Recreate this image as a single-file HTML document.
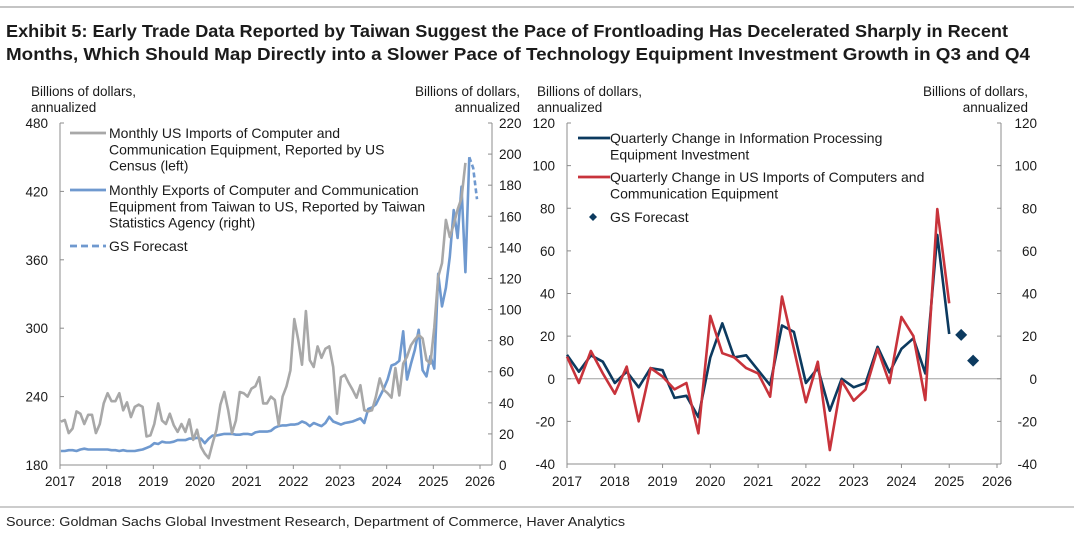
<!DOCTYPE html>
<html><head><meta charset="utf-8">
<style>
body{margin:0;background:#fff;width:1074px;height:535px;overflow:hidden;font-family:"Liberation Sans",Arial,sans-serif;}
svg text{font-family:"Liberation Sans",Arial,sans-serif;}
</style></head>
<body>
<svg id="c" width="1074" height="535" viewBox="0 0 1074 535">
<line x1="0" y1="7" x2="1074" y2="7" stroke="#888" stroke-width="1"/>
<text x="6" y="37" font-size="17.5" font-weight="bold" fill="#1b1b1b" textLength="1002" lengthAdjust="spacingAndGlyphs">Exhibit 5: Early Trade Data Reported by Taiwan Suggest the Pace of Frontloading Has Decelerated Sharply in Recent</text>
<text x="6" y="60" font-size="17.5" font-weight="bold" fill="#1b1b1b" textLength="1024" lengthAdjust="spacingAndGlyphs">Months, Which Should Map Directly into a Slower Pace of Technology Equipment Investment Growth in Q3 and Q4</text>
<line x1="0" y1="507" x2="1074" y2="507" stroke="#999" stroke-width="1"/>
<text x="6" y="526" font-size="13" fill="#222" textLength="619" lengthAdjust="spacingAndGlyphs">Source: Goldman Sachs Global Investment Research, Department of Commerce, Haver Analytics</text>
<g id="L"></g>
<g id="R"></g>
</svg>
<script>
// ---------- data ----------
const years = [2017,2018,2019,2020,2021,2022,2023,2024,2025,2026];
const leftTicks = [180,240,300,360,420,480];
const leftRightTicks = [0,20,40,60,80,100,120,140,160,180,200,220];
const rightTicks = [-40,-20,0,20,40,60,80,100,120];
// monthly US imports, Jan 2017 onward (left axis)
const usImports = [218,219.5,208,212,227,225,216,224,224,208,216,234,243,236,236,243,228,235,222,231,233,231,205,206,216,234,219,216,225,215,209,216,209,220,202,211,196,190,186,199,211,233,244,228,208,219,244,243,240,247,249,257,234,234,240,237,215,240,249,263,308,290,268,315,272,266,284,274,282,284,266,225,257,259,252,246,239,250,228,227,228,240,256,246,243,239,265,241,269,275,285,290,294,291,272,269,301,345,357,395,380,391,404,414,445];
// monthly Taiwan exports, Jan 2017 onward (right axis)
const twExports = [9,9,9.5,9.5,9,10,10.5,10,10,10,10,10,10,9.5,9.5,9,9.5,9,9,9,9.5,10,11,12,14,13.5,15,14.5,14.5,15,16,16,16,17,17,17.5,17,14,17,19,19,19.5,20,20,20,19.5,19.5,20,20,19.5,21,21.5,21.5,21.5,22,24,25,25.5,25.5,26,26,26.5,28,27,25,27,26,25,27,31,28,27,26,27,27.5,28,29,30,27,36,37,39,44,49,55,64,65,67,86,55,65,74,87,61,57,70,62,123,102,114,134,164,146,179,124,198];
const twForecast = [198,191,171]; // Oct-Dec 2025
// quarterly, Q1 2017 onward
const infoProc = [11.2,3.3,11,8,-2,3.3,-4,5,4,-9,-8,-18,10,26,10,11,4,-3,25,22,-2,5,-15,0,-4,-2,15,3,14,19,2.5,67.5,21];
const importsQ = [10.4,-2,13,2.5,-7,5.7,-20,5,1,-5,-2,-25.6,29.5,12,10,5,2.5,-8.4,38.6,14,-11,8,-33.5,-1,-10.3,-5,14,-2,29,20,-10,79.6,35.4];
const gsForecastQ = [20.6,8.5]; // Q2, Q3 2025

// ---------- helpers ----------
const NS="http://www.w3.org/2000/svg";
function mk(parent,tag,attrs,text){const e=document.createElementNS(NS,tag);for(const k in attrs)e.setAttribute(k,attrs[k]);if(text!==undefined)e.textContent=text;parent.appendChild(e);return e;}
const AX="#8c8c8c", TXT="#1a1a1a", FS=13.5, LFS=14;

// ---------- left panel ----------
const L=document.getElementById('L');
const lx=y=>60+(y-2017)*(480-60)/9;
const ly=v=>465-(v-180)*(465-123)/300;
const ry=v=>465-v*(465-123)/220;
let e;
e=mk(L,'line',{x1:60,y1:123,x2:60,y2:465,stroke:AX});


e=mk(L,'line',{x1:492,y1:123,x2:492,y2:465,stroke:AX});


e=mk(L,'line',{x1:60,y1:465,x2:492,y2:465,stroke:AX});


leftTicks.forEach(v=>{mk(L,'line',{x1:60,y1:ly(v),x2:64,y2:ly(v),stroke:AX});
 e=mk(L,'text',{x:48,y:ly(v)+5,'font-size':FS,'text-anchor':'end',fill:TXT},v);
 
 });
leftRightTicks.forEach(v=>{mk(L,'line',{x1:488,y1:ry(v),x2:492,y2:ry(v),stroke:AX});
 e=mk(L,'text',{x:499,y:ry(v)+5,'font-size':FS,fill:TXT},v);
 
 });
years.forEach(y=>{mk(L,'line',{x1:lx(y),y1:465,x2:lx(y),y2:469,stroke:AX});
 e=mk(L,'text',{x:lx(y),y:486,'font-size':FS,'text-anchor':'middle',fill:TXT},y);
 
 });
e=mk(L,'text',{x:31,y:96,'font-size':FS,fill:TXT},'Billions of dollars,');


mk(L,'text',{x:31,y:112,'font-size':FS,fill:TXT},'annualized');
e=mk(L,'text',{x:520,y:96,'font-size':FS,fill:TXT,'text-anchor':'end'},'Billions of dollars,');


mk(L,'text',{x:520,y:112,'font-size':FS,fill:TXT,'text-anchor':'end'},'annualized');
function path(arr,fx,fy){return arr.map((v,i)=>(i?'L':'M')+fx(i).toFixed(1)+','+fy(v).toFixed(1)).join('');}
const mx=i=>lx(2017+i/12+0.02);
e=mk(L,'path',{d:path(twExports,mx,ry),fill:'none',stroke:'#6f99cf','stroke-width':2.6,'stroke-linejoin':'round'});


e=mk(L,'path',{d:path(usImports,mx,ly),fill:'none',stroke:'#a8a8a8','stroke-width':2.6,'stroke-linejoin':'round'});


const off=twExports.length-1;
e=mk(L,'path',{d:path(twForecast,i=>mx(off+i),ry),fill:'none',stroke:'#6f99cf','stroke-width':2.6,'stroke-dasharray':'5,3'});


// left legend
const lg=[['#a8a8a8',false,['Monthly US Imports of Computer and','Communication Equipment, Reported by US','Census (left)'],138],
['#6f99cf',false,['Monthly Exports of Computer and Communication','Equipment from Taiwan to US, Reported by Taiwan','Statistics Agency (right)'],195],
['#6f99cf',true,['GS Forecast'],251]];
lg.forEach(g=>{const gg=mk(L,'g',{});
 
 
 mk(gg,'line',{x1:70,y1:g[3]-5,x2:106,y2:g[3]-5,stroke:g[0],'stroke-width':2.8,'stroke-dasharray':g[1]?'7,4':'none'});
 g[2].forEach((t,k)=>mk(gg,'text',{x:109,y:g[3]+k*16.3,'font-size':LFS,fill:TXT},t));});

// ---------- right panel ----------
const R=document.getElementById('R');
const qx=y=>567+(y-2017)*(997-567)/9;
const qy=v=>464-(v+40)*(464-123)/160;
e=mk(R,'line',{x1:567,y1:123,x2:567,y2:464,stroke:AX});


e=mk(R,'line',{x1:1001,y1:123,x2:1001,y2:464,stroke:AX});


e=mk(R,'line',{x1:567,y1:464,x2:1001,y2:464,stroke:AX});


e=mk(R,'line',{x1:567,y1:qy(0),x2:1001,y2:qy(0),stroke:'#a0a0a0'});


rightTicks.forEach(v=>{mk(R,'line',{x1:567,y1:qy(v),x2:571,y2:qy(v),stroke:AX});mk(R,'line',{x1:997,y1:qy(v),x2:1001,y2:qy(v),stroke:AX});
 e=mk(R,'text',{x:555,y:qy(v)+5,'font-size':FS,'text-anchor':'end',fill:TXT},v);
 
 
 e=mk(R,'text',{x:1037,y:qy(v)+5,'font-size':FS,'text-anchor':'end',fill:TXT},v);
 
 });
years.forEach(y=>{mk(R,'line',{x1:qx(y),y1:464,x2:qx(y),y2:468,stroke:AX});
 e=mk(R,'text',{x:qx(y),y:486,'font-size':FS,'text-anchor':'middle',fill:TXT},y);
 
 });
e=mk(R,'text',{x:537,y:96,'font-size':FS,fill:TXT},'Billions of dollars,');


mk(R,'text',{x:537,y:112,'font-size':FS,fill:TXT},'annualized');
e=mk(R,'text',{x:1028,y:96,'font-size':FS,fill:TXT,'text-anchor':'end'},'Billions of dollars,');


mk(R,'text',{x:1028,y:112,'font-size':FS,fill:TXT,'text-anchor':'end'},'annualized');
const qix=i=>qx(2017+i/4);
e=mk(R,'path',{d:path(infoProc,qix,qy),fill:'none',stroke:'#0c3a5f','stroke-width':2.6,'stroke-linejoin':'round'});


e=mk(R,'path',{d:path(importsQ,qix,qy),fill:'none',stroke:'#c8333b','stroke-width':2.6,'stroke-linejoin':'round'});


gsForecastQ.forEach((v,i)=>{const x=qix(infoProc.length+i),y=qy(v);
 e=mk(R,'path',{d:`M${x},${y-6}L${x+6},${y}L${x},${y+6}L${x-6},${y}Z`,fill:'#0c3a5f'});
 
 });
const rg=[['#0c3a5f',['Quarterly Change in Information Processing','Equipment Investment'],143],
['#c8333b',['Quarterly Change in US Imports of Computers and','Communication Equipment'],182]];
rg.forEach(g=>{const gg=mk(R,'g',{});
 
 
 mk(gg,'line',{x1:578,y1:g[2]-5,x2:610,y2:g[2]-5,stroke:g[0],'stroke-width':2.8});
 g[1].forEach((t,k)=>mk(gg,'text',{x:610,y:g[2]+k*16.3,'font-size':LFS,fill:TXT},t));});
const fg=mk(R,'g',{});


mk(fg,'path',{d:'M593,213L597,217L593,221L589,217Z',fill:'#0c3a5f'});
mk(fg,'text',{x:610,y:222,'font-size':LFS,fill:TXT},'GS Forecast');
</script>
</body></html>
